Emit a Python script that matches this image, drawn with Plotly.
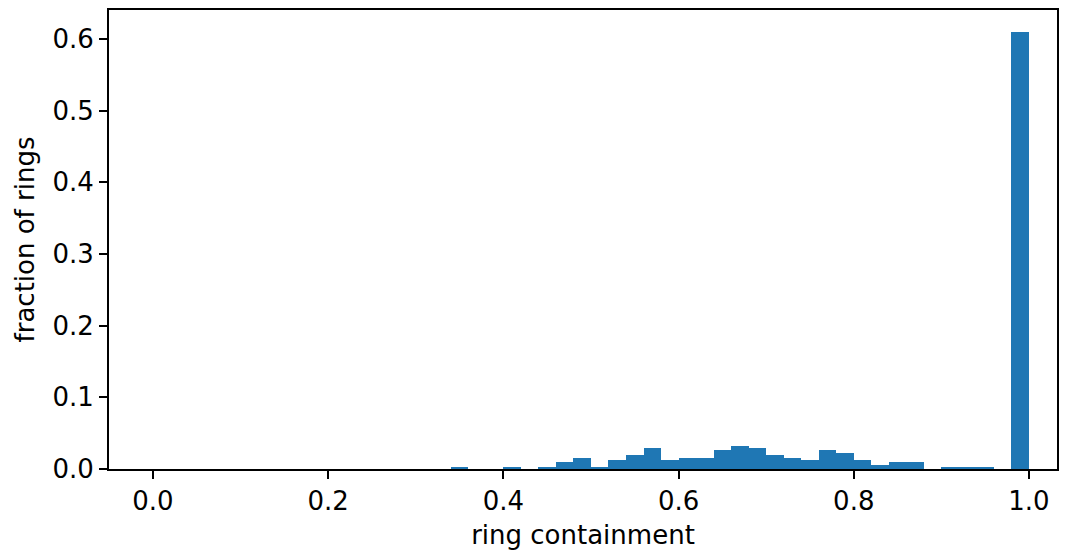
import numpy as np
import plotly.graph_objects as go

# 50 histogram bins over [0, 1]
bin_edges = np.linspace(0.0, 1.0, 51)
fractions = [
    0, 0, 0, 0, 0, 0, 0, 0, 0, 0,          # 0.00-0.20
    0, 0, 0, 0, 0, 0, 0, 0.003, 0, 0,      # 0.20-0.40
    0.003, 0, 0.003, 0.010, 0.0155, 0.003, 0.0125, 0.0195, 0.029, 0.0125,  # 0.40-0.60
    0.0155, 0.0155, 0.0265, 0.032, 0.029, 0.0195, 0.0155, 0.0125, 0.0265, 0.022,  # 0.60-0.80
    0.0125, 0.0055, 0.0097, 0.0097, 0, 0.003, 0.003, 0.003, 0, 0.61,  # 0.80-1.00
]
x_ticks = [0.0, 0.2, 0.4, 0.6, 0.8, 1.0]
y_ticks = [0.0, 0.1, 0.2, 0.3, 0.4, 0.5, 0.6]

centers = (bin_edges[:-1] + bin_edges[1:]) / 2
widths = np.diff(bin_edges)

fig = go.Figure(go.Bar(
    x=centers, y=fractions, width=widths,
    marker=dict(color="#1f77b4", line=dict(width=0)),
))

font = dict(family="DejaVu Sans", size=26, color="black")
axis_common = dict(
    showline=True, linecolor="black", linewidth=1.8, mirror=True,
    ticks="outside", ticklen=8, tickwidth=1.8, tickcolor="black",
    showgrid=False, zeroline=False, tickfont=font, automargin=False,
)
fig.update_xaxes(range=[-0.0502, 1.032], tickvals=x_ticks, tickformat=".1f",
                 title=dict(text="ring containment", font=font, standoff=11),
                 **axis_common)
fig.update_yaxes(range=[0, 0.6404], tickvals=y_ticks, tickformat=".1f",
                 title=dict(text="fraction of rings", font=font, standoff=10),
                 **axis_common)
fig.update_layout(
    width=1069, height=552,
    margin=dict(l=109, r=12, t=10, b=83),
    plot_bgcolor="white", paper_bgcolor="white",
    showlegend=False, bargap=0,
)
fig.write_html("out.html", config={"displayModeBar": False},
               post_script="document.body.style.margin='0';")
